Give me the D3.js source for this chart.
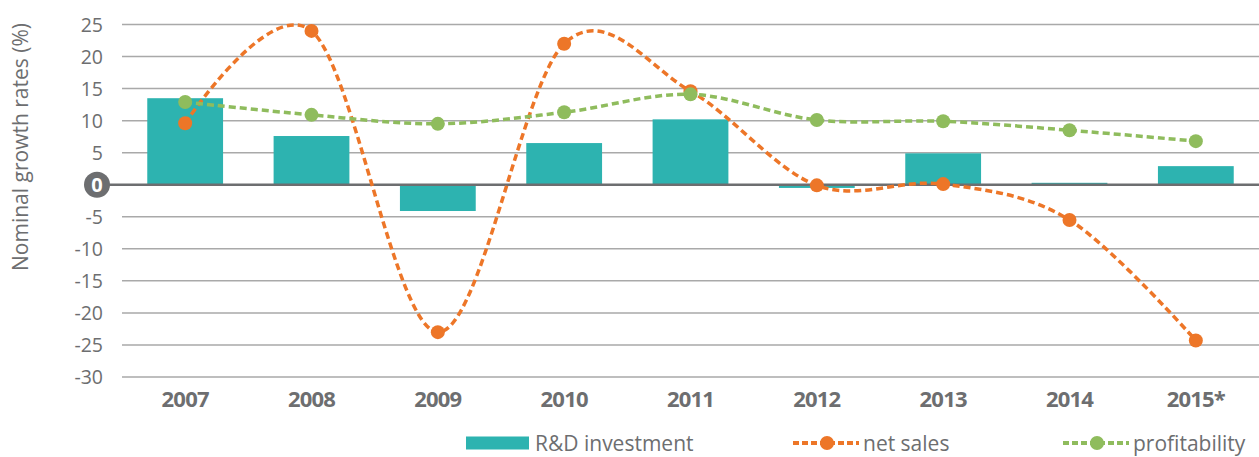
<!DOCTYPE html>
<html>
<head>
<meta charset="utf-8">
<script src="https://cdn.jsdelivr.net/npm/d3@7"></script>
<style>
  body { margin: 0; background: #fff; }
  text { font-family: "Open Sans", "DejaVu Sans", sans-serif; }
</style>
</head>
<body>
<div id="chart"></div>
<script>
// data
const years = ["2007", "2008", "2009", "2010", "2011", "2012", "2013", "2014", "2015*"];
const rdInvestment = [13.5, 7.6, -4.1, 6.5, 10.2, -0.5, 4.9, 0.3, 2.9];
const netSales = [9.6, 24.0, -23.0, 22.0, 14.6, -0.1, 0.1, -5.5, -24.3];
const profitability = [12.9, 10.9, 9.5, 11.3, 14.1, 10.1, 9.9, 8.5, 6.8];
const yTicks = [25, 20, 15, 10, 5, 0, -5, -10, -15, -20, -25, -30];

const width = 1259, height = 457;
const plotLeft = 122, plotRight = 1259, plotTop = 24.5, plotBottom = 377;

const grey = "#6d6e70";
const teal = "#2db3b0";
const orange = "#ed7628";
const green = "#8fbc5d";

const svg = d3.select("#chart")
    .append("svg")
    .attr("width", width)
    .attr("height", height);

const x = d3.scaleBand()
    .domain(years)
    .range([plotLeft, plotRight])
    .paddingInner(0.4)
    .paddingOuter(0.2);

const y = d3.scaleLinear()
    .domain([-30, 25])
    .range([plotBottom, plotTop]);

// gridlines
svg.append("g")
    .selectAll("line")
    .data(yTicks.filter(d => d !== 0))
    .enter().append("line")
    .attr("x1", plotLeft)
    .attr("x2", plotRight)
    .attr("y1", d => y(d))
    .attr("y2", d => y(d))
    .attr("stroke", "#a9a9a9")
    .attr("stroke-width", 1.5);

// tick labels
svg.append("g")
    .selectAll("text")
    .data(yTicks.filter(d => d !== 0))
    .enter().append("text")
    .attr("x", 103)
    .attr("y", d => y(d))
    .attr("dy", "0.36em")
    .attr("text-anchor", "end")
    .attr("fill", grey)
    .style("font-size", "19.5px")
    .text(d => d);

// bars
svg.append("g")
    .selectAll("rect")
    .data(rdInvestment)
    .enter().append("rect")
    .attr("x", (d, i) => x(years[i]))
    .attr("width", x.bandwidth())
    .attr("y", d => y(Math.max(0, d)))
    .attr("height", d => Math.abs(y(d) - y(0)))
    .attr("fill", teal);

// zero line with round label
svg.append("line")
    .attr("x1", 100)
    .attr("x2", plotRight)
    .attr("y1", y(0))
    .attr("y2", y(0))
    .attr("stroke", grey)
    .attr("stroke-width", 2.5);

svg.append("circle")
    .attr("cx", 97)
    .attr("cy", y(0))
    .attr("r", 13)
    .attr("fill", grey);

svg.append("text")
    .attr("x", 97)
    .attr("y", y(0))
    .attr("dy", "0.36em")
    .attr("text-anchor", "middle")
    .attr("fill", "#fff")
    .style("font-size", "20px")
    .style("font-weight", "bold")
    .text("0");

// lines
const cx = (d, i) => x(years[i]) + x.bandwidth() / 2;
const line = d3.line()
    .x(cx)
    .y(d => y(d))
    .curve(d3.curveCardinal.tension(0));

function drawSeries(data, color) {
    svg.append("path")
        .datum(data)
        .attr("d", line)
        .attr("fill", "none")
        .attr("stroke", color)
        .attr("stroke-width", 3.5)
        .attr("stroke-dasharray", "7,4");
    svg.append("g")
        .selectAll("circle")
        .data(data)
        .enter().append("circle")
        .attr("cx", cx)
        .attr("cy", d => y(d))
        .attr("r", 7)
        .attr("fill", color);
}
drawSeries(netSales, orange);
drawSeries(profitability, green);

// x labels
svg.append("g")
    .selectAll("text")
    .data(years)
    .enter().append("text")
    .attr("x", d => x(d) + x.bandwidth() / 2)
    .attr("y", 399)
    .attr("dy", "0.36em")
    .attr("text-anchor", "middle")
    .attr("fill", grey)
    .style("font-size", "22px")
    .style("font-weight", "bold")
    .style("letter-spacing", "-0.8px")
    .text(d => d);

// y axis title
svg.append("text")
    .attr("transform", "translate(28,147) rotate(-90)")
    .attr("text-anchor", "middle")
    .attr("fill", grey)
    .style("font-size", "21px")
    .text("Nominal growth rates (%)");

// legend
const legend = svg.append("g");
const ly = 443;
legend.append("rect")
    .attr("x", 466).attr("y", ly - 6.5)
    .attr("width", 63).attr("height", 13)
    .attr("fill", teal);
legend.append("text")
    .attr("x", 535).attr("y", ly).attr("dy", "0.36em")
    .attr("fill", grey).style("font-size", "21px")
    .text("R&D investment");

[[793, orange, "net sales"], [1063, green, "profitability"]].forEach(([lx, color, label]) => {
    legend.append("line")
        .attr("x1", lx).attr("x2", lx + 66)
        .attr("y1", ly).attr("y2", ly)
        .attr("stroke", color).attr("stroke-width", 4)
        .attr("stroke-dasharray", "6,3");
    legend.append("circle")
        .attr("cx", lx + 34).attr("cy", ly).attr("r", 7)
        .attr("fill", color);
    legend.append("text")
        .attr("x", lx + 70).attr("y", ly).attr("dy", "0.36em")
        .attr("fill", grey).style("font-size", "21px")
        .text(label);
});
</script>
</body>
</html>
